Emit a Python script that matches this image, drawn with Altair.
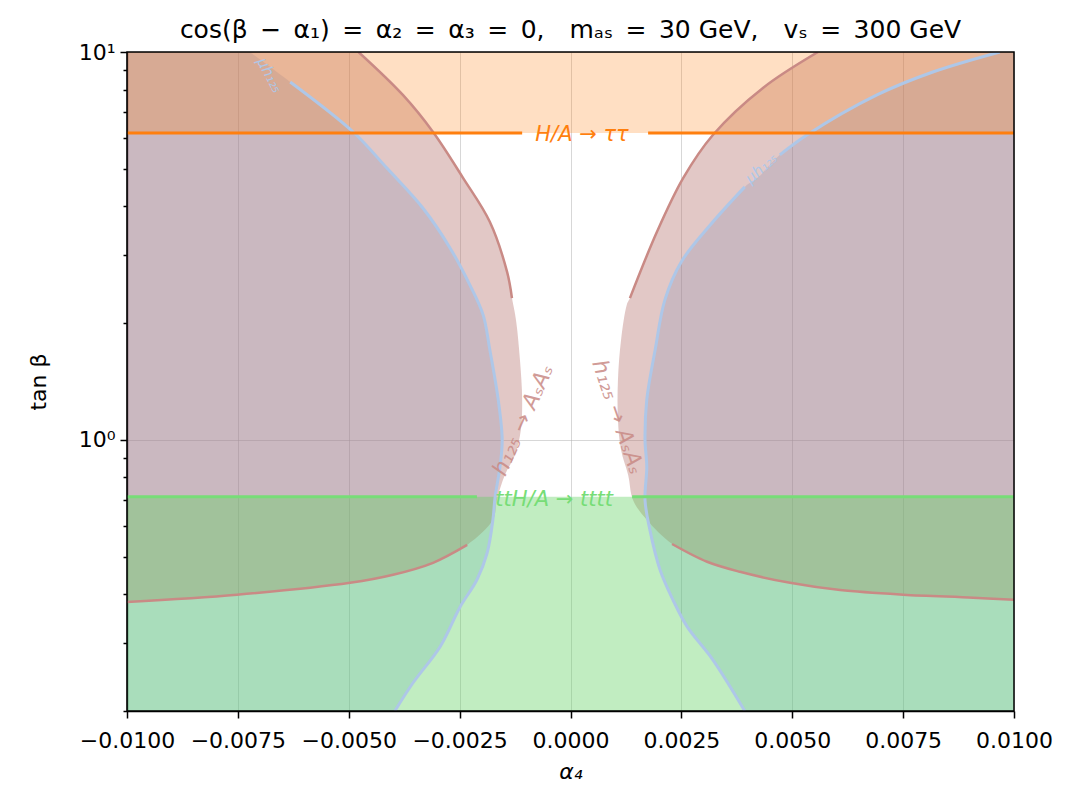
import altair as alt
import pandas as pd

X_MIN, X_MAX = -0.01, 0.01
Y_MIN, Y_MAX = 0.2, 10.0

# ---- contour readings (tan beta ascending) ----
blue_left_y = [0.2, 0.2365, 0.293, 0.371, 0.436, 0.511, 0.622, 0.713, 0.852, 1.0,
               1.27, 1.71, 2.10, 2.51, 3.13, 3.96, 5.02, 6.22, 8.37, 10.0]
blue_left_x = [-0.00396, -0.00355, -0.00294, -0.00249, -0.00211, -0.00188, -0.00175,
               -0.00170, -0.00159, -0.00154, -0.00163, -0.00182, -0.00197, -0.00227,
               -0.00272, -0.00333, -0.00414, -0.00490, -0.00632, -0.00723]

blue_right_y = [0.2, 0.271, 0.330, 0.387, 0.462, 0.586, 0.70, 0.852, 1.0, 1.27, 1.71,
                2.30, 2.88, 3.58, 4.49, 4.73, 5.43, 6.11, 7.75, 8.88, 10.0]
blue_right_x = [0.00393, 0.00321, 0.00263, 0.00231, 0.00202, 0.00179, 0.00168, 0.00172,
                0.00168, 0.00172, 0.00191, 0.00213, 0.00250, 0.00315, 0.00393, 0.00421,
                0.00472, 0.00533, 0.00691, 0.00817, 0.00968]

red_left_y = [0.382, 0.399, 0.428, 0.449, 0.482, 0.536, 0.622, 0.70, 0.812, 0.915, 1.06,
              1.27, 1.61, 2.04, 2.32, 2.71, 3.65, 4.73, 6.22, 7.75, 10.0]
red_left_x = [-0.01, -0.00752, -0.00497, -0.00400, -0.00310, -0.00233, -0.00175, -0.00166,
              -0.00148, -0.00125, -0.00112, -0.00109, -0.00114, -0.00123, -0.00132,
              -0.00143, -0.00182, -0.00242, -0.00310, -0.00378, -0.00478]

red_right_y = [0.387, 0.392, 0.399, 0.410, 0.428, 0.457, 0.485, 0.539, 0.622, 0.70, 0.812,
               0.942, 1.126, 1.43, 1.81, 2.23, 2.32, 3.44, 4.73, 6.11, 8.08, 10.0]
red_right_x = [0.01, 0.00908, 0.00750, 0.00608, 0.00495, 0.00382, 0.00308, 0.00229,
               0.00172, 0.00141, 0.00130, 0.00114, 0.00107, 0.00107, 0.00114, 0.00127,
               0.00134, 0.00195, 0.00254, 0.00321, 0.00434, 0.00558]

# horizontal limits
tau_limit = 6.18     # H/A -> tautau, excluded above
tttt_limit = 0.713   # ttH/A -> tttt, excluded below

# label gaps in the horizontal lines
tau_gap = [-0.00109, 0.00175]
tttt_gap = [-0.00211, 0.00139]

x_ticks = [-0.01, -0.0075, -0.005, -0.0025, 0.0, 0.0025, 0.005, 0.0075, 0.01]
y_ticks = [0.2, 0.3, 0.4, 0.5, 0.6, 0.7, 0.8, 0.9, 1, 2, 3, 4, 5, 6, 7, 8, 9, 10]

FONT = "DejaVu Sans"
BLUE_FILL = "#6496dc"
RED_FILL = "#b77671"
ORANGE = "#ff7f0e"
GREEN_FILL = "#64d264"
BLUE_LINE = "#aec7e8"
RED_LINE = "#c98a85"
GREEN_LINE = "#77dd77"
CURVE = "catmull-rom"

xs = alt.Scale(domain=[X_MIN, X_MAX], nice=False, zero=False)
ys = alt.Scale(type="log", domain=[Y_MIN, Y_MAX], nice=False)

common = dict(labelFontSize=22, titleFontSize=22, labelFont=FONT, titleFont=FONT,
              titleFontWeight="normal", labelColor="black", titleColor="black",
              domainColor="black", tickColor="black", domainWidth=1.5, tickWidth=1.5,
              grid=True, gridColor="#b0b0b0", labelOverlap=False, labelFlush=False)
major = "datum.value == 1 || datum.value == 10"
x_axis = alt.Axis(values=x_ticks, format=".4f", title="α₄", titleFontStyle="italic",
                  tickSize=7, gridOpacity=0.5, labelPadding=12, titlePadding=10, **common)
y_axis = alt.Axis(values=y_ticks, title="tan β",
                  labelExpr="datum.value == 1 ? '10⁰' : (datum.value == 10 ? '10¹' : '')",
                  tickSize={"condition": {"test": major, "value": 7}, "value": 4},
                  gridOpacity={"condition": {"test": major, "value": 0.5}, "value": 0},
                  labelPadding=5, titlePadding=28, **common)


def X(f):
    return alt.X(f, scale=xs, stack=False, axis=x_axis)


def Y(f):
    return alt.Y(f, scale=ys, stack=False, axis=y_axis)


def harea(xa, xb, yv, color, op):
    df = pd.DataFrame({"y": yv, "xa": xa, "xb": xb})
    return alt.Chart(df).mark_area(orient="horizontal", color=color, opacity=op,
                                   interpolate=CURVE).encode(
        x=X("xa:Q"), x2="xb:Q", y=Y("y:Q"))


def band(y0, y1, color, op, filled=True):
    df = pd.DataFrame({"xa": [X_MIN], "xb": [X_MAX], "ya": [y0], "yb": [y1]})
    if filled:
        mk = alt.Chart(df).mark_rect(color=color, opacity=op)
    else:
        mk = alt.Chart(df).mark_rect(fillOpacity=0, stroke=color, strokeWidth=1.5)
    return mk.encode(x=X("xa:Q"), x2="xb:Q", y=Y("ya:Q"), y2="yb:Q")


def line(xv, yv, color, width, op=1.0, curve="linear"):
    df = pd.DataFrame({"x": xv, "y": yv, "i": list(range(len(xv)))})
    return alt.Chart(df).mark_line(color=color, strokeWidth=width, opacity=op,
                                   interpolate=curve, clip=True).encode(
        x=X("x:Q"), y=Y("y:Q"), order="i:Q")


def label(txt, xv, yv, color, size, angle=0, op=1.0, style="italic"):
    df = pd.DataFrame({"x": [xv], "y": [yv], "t": [txt]})
    return alt.Chart(df).mark_text(color=color, fontSize=size, angle=angle, opacity=op,
                                   font=FONT, fontStyle=style, align="center",
                                   baseline="middle").encode(
        x=X("x:Q"), y=Y("y:Q"), text="t:N")


layers = [
    harea([X_MIN] * len(blue_left_y), blue_left_x, blue_left_y, BLUE_FILL, 0.25),
    harea(blue_right_x, [X_MAX] * len(blue_right_y), blue_right_y, BLUE_FILL, 0.25),
    harea([X_MIN] * len(red_left_y), red_left_x, red_left_y, RED_FILL, 0.4),
    harea(red_right_x, [X_MAX] * len(red_right_y), red_right_y, RED_FILL, 0.4),
    band(tau_limit, Y_MAX, ORANGE, 0.25),
    band(Y_MIN, tttt_limit, GREEN_FILL, 0.4),
    # red contour lines
    line(red_left_x[:6], red_left_y[:6], RED_LINE, 2.5, curve=CURVE),
    line(red_left_x[14:], red_left_y[14:], RED_LINE, 2.5, curve=CURVE),
    line(red_right_x[:8], red_right_y[:8], RED_LINE, 2.5, curve=CURVE),
    line(red_right_x[16:], red_right_y[16:], RED_LINE, 2.5, curve=CURVE),
    # blue contour lines
    line(blue_left_x[:19], blue_left_y[:19], BLUE_LINE, 3, curve=CURVE),
    line(blue_right_x[:15], blue_right_y[:15], BLUE_LINE, 3, curve=CURVE),
    line(blue_right_x[16:], blue_right_y[16:], BLUE_LINE, 3, curve=CURVE),
    # horizontal limits
    line([X_MIN, tau_gap[0]], [tau_limit, tau_limit], ORANGE, 3),
    line([tau_gap[1], X_MAX], [tau_limit, tau_limit], ORANGE, 3),
    line([X_MIN, tttt_gap[0]], [tttt_limit, tttt_limit], GREEN_LINE, 3),
    line([tttt_gap[1], X_MAX], [tttt_limit, tttt_limit], GREEN_LINE, 3),
    # labels
    label("H/A → ττ", 0.00026, 6.1, ORANGE, 21),
    label("ttH/A → tttt", -0.00037, 0.70, GREEN_LINE, 21),
    label("h₁₂₅ → AₛAₛ", -0.00107, 1.126, RED_LINE, 22, angle=294, op=0.85),
    label("h₁₂₅ → AₛAₛ", 0.00107, 1.146, RED_LINE, 22, angle=71, op=0.85),
    label("μh₁₂₅", -0.00678, 8.72, BLUE_LINE, 15, angle=62),
    label("μh₁₂₅", 0.00430, 5.02, BLUE_LINE, 15, angle=318),
    # frame
    band(Y_MIN, Y_MAX, "black", 1, filled=False),
]

SP = "\u2002"
title_txt = ("cos(β" + SP + "−" + SP + "α₁)" + SP + "=" + SP + "α₂" + SP + "=" + SP +
             "α₃" + SP + "=" + SP + "0," + SP + SP + "mₐₛ" + SP + "=" + SP + "30 GeV," +
             SP + SP + "vₛ" + SP + "=" + SP + "300 GeV")

chart = alt.layer(*layers).properties(
    width=887, height=659,
    background="white",
    title=alt.TitleParams(title_txt, fontSize=25, font=FONT, fontWeight="normal",
                          anchor="middle", offset=4, dy=6, color="black"),
    autosize=alt.AutoSizeParams(type="none"),
    padding={"left": 127, "top": 52, "right": 72, "bottom": 78},
).configure_view(stroke=None)

chart.save("out.html", embed_options={"renderer": "svg", "actions": False})
